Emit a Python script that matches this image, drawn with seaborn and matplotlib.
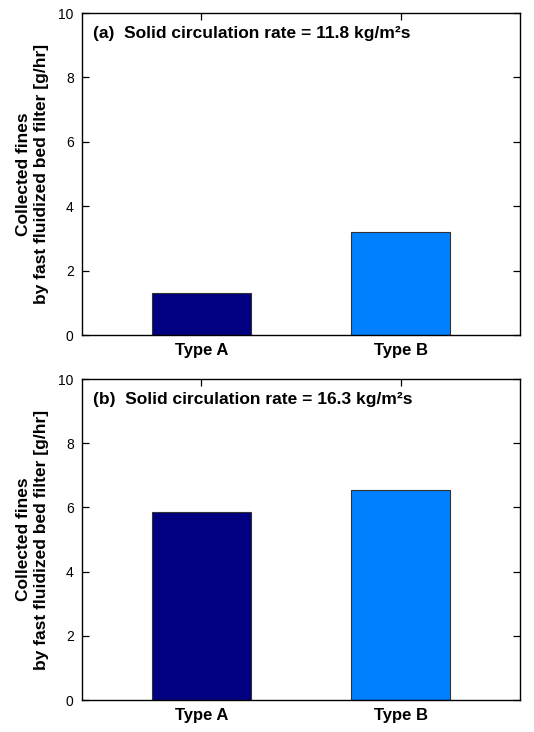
import matplotlib
matplotlib.use("Agg")
import matplotlib.pyplot as plt
import seaborn as sns
import pandas as pd

# Data
types = ["Type A", "Type B"]
fines_a = [1.32, 3.19]   # solid circulation rate 11.8 kg/m2s
fines_b = [5.87, 6.53]   # solid circulation rate 16.3 kg/m2s
panel_titles = ["(a)  Solid circulation rate = 11.8 kg/m²s",
                "(b)  Solid circulation rate = 16.3 kg/m²s"]
bar_colors = ["#000080", "#0080FF"]
y_ticks = [0, 2, 4, 6, 8, 10]

sns.set_style("ticks")
plt.rcParams["font.family"] = ["Liberation Sans", "DejaVu Sans"]
plt.rcParams["text.color"] = "black"
plt.rcParams["axes.labelcolor"] = "black"
plt.rcParams["xtick.color"] = "black"
plt.rcParams["ytick.color"] = "black"

fig = plt.figure(figsize=(5.34, 7.32), dpi=100)
ax_top = fig.add_axes([0.1536, 0.5423, 0.8202, 0.4399])
ax_bot = fig.add_axes([0.1536, 0.0437, 0.8202, 0.4385])

for ax, vals, title in zip([ax_top, ax_bot], [fines_a, fines_b], panel_titles):
    df = pd.DataFrame({"type": types, "fines": vals})
    sns.barplot(data=df, x="type", y="fines", hue="type", palette=bar_colors,
                width=0.5, saturation=1, edgecolor="#333333", linewidth=0.8,
                legend=False, ax=ax)
    ax.set_xlim(-0.6, 1.6)
    ax.set_ylim(0, 10)
    ax.set_yticks(y_ticks)
    ax.set_xlabel("")
    ax.set_ylabel("Collected fines\nby fast fluidized bed filter [g/hr]",
                  fontsize=12.5, fontweight="bold", labelpad=7,
                  linespacing=1.2)
    for s in ax.spines.values():
        s.set_visible(True)
        s.set_color("black")
        s.set_linewidth(1.0)
    ax.tick_params(axis="y", direction="in", length=5, width=0.9, right=True,
                   labelsize=10, pad=6)
    ax.tick_params(axis="x", direction="in", length=5, width=0.9, top=True,
                   bottom=False, labelsize=12, pad=6)
    for lbl in ax.get_xticklabels():
        lbl.set_fontweight("bold")
    ax.text(0.025, 0.935, title, transform=ax.transAxes, fontsize=12.5,
            fontweight="bold", va="center", ha="left")

fig.savefig("out.png", dpi=100)
